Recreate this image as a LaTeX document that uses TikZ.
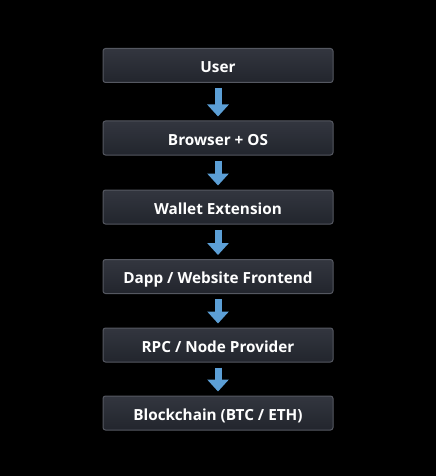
\documentclass[tikz,border=0pt]{standalone}
\usepackage{fontspec}
\setmainfont{Open Sans}
\usepackage{xcolor}
\usetikzlibrary{arrows.meta,positioning,calc}
\definecolor{boxtop}{HTML}{33363F}
\definecolor{boxbot}{HTML}{22252D}
\definecolor{boxline}{HTML}{555861}
\definecolor{flowblue}{HTML}{5C9FD6}
\tikzset{
    layer/.style={draw=boxline,line width=1pt,rounded corners=2.5pt,
        top color=boxtop,bottom color=boxbot,
        minimum width=230pt,minimum height=34pt,inner sep=0pt,
        text height=15pt,text depth=1pt,
        text=white,font=\bfseries\fontsize{15.3}{17}\selectfont},
    flow/.style={flowblue,line width=7pt,
        -{Triangle[width=21pt,length=12pt]},shorten <=5pt,shorten >=4pt}
}
\begin{document}
\begin{tikzpicture}[x=1pt,y=-1pt]
    % background and page size
    \fill[black] (0,0) rectangle (436,476);

    % the stack, top to bottom
    \node[layer] (user)   at (218,65.5) {User};
    \node[layer] (browser) at (218,138) {Browser + OS};
    \node[layer] (wallet) at (218,207) {Wallet Extension};
    \node[layer] (dapp)   at (218,276.5) {Dapp / Website Frontend};
    \node[layer] (rpc)    at (218,345) {RPC / Node Provider};
    \node[layer] (chain)  at (218,413) {Blockchain (BTC / ETH)};

    % arrows between layers
    \draw[flow] (user) -- (browser);
    \draw[flow] (browser) -- (wallet);
    \draw[flow] (wallet) -- (dapp);
    \draw[flow] (dapp) -- (rpc);
    \draw[flow] (rpc) -- (chain);
\end{tikzpicture}
\end{document}
